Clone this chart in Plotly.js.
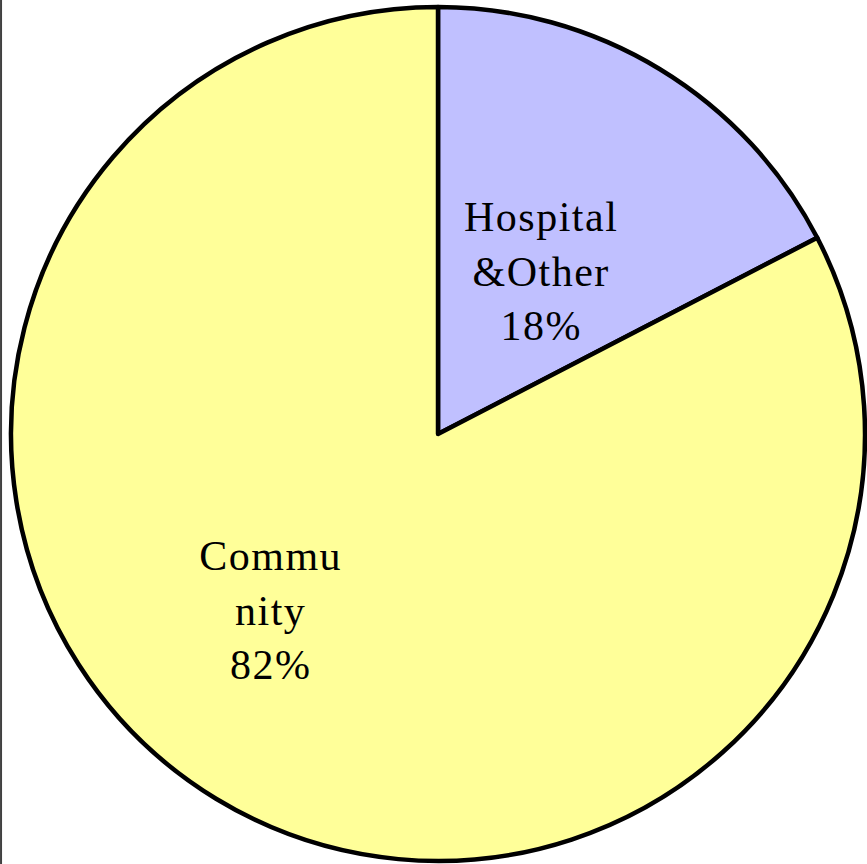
<!DOCTYPE html>
<html>
<head>
<meta charset="utf-8">
<script src="https://cdn.plot.ly/plotly-3.0.1.min.js"></script>
<style>html,body{margin:0;padding:0;background:#fff;}#chart{width:867px;height:864px;}
#chart .annotation-text{letter-spacing:1.5px;}</style>
</head>
<body>
<div id="chart"></div>
<script>
// Data
const categories = ['Hospital &Other', 'Community'];
const values = [17.4, 82.6];
const percentLabels = ['18%', '82%'];
const labelLines = [['Hospital', '&Other'], ['Commu', 'nity']];
const sliceColors = ['#C0C0FF', '#FFFF99'];

const labelPos = [{x: 0.624, y: 0.686}, {x: 0.312, y: 0.293}];

const trace = {
  type: 'pie',
  labels: categories,
  values: values,
  sort: false,
  direction: 'clockwise',
  rotation: 0,
  textinfo: 'none',
  hoverinfo: 'label+percent',
  marker: {colors: sliceColors, line: {color: '#000000', width: 4.5}},
  domain: {x: [0.0127, 0.9977], y: [0.0035, 0.9919]},
  showlegend: false
};

const annotations = categories.map((c, i) => ({
  xref: 'paper', yref: 'paper',
  x: labelPos[i].x, y: labelPos[i].y,
  xanchor: 'center', yanchor: 'middle',
  showarrow: false,
  align: 'center',
  text: labelLines[i].concat([percentLabels[i]]).join('<br>'),
  font: {family: 'Liberation Serif, Times New Roman, serif', size: 42, color: '#000000'}
}));

const layout = {
  width: 867, height: 864,
  margin: {l: 0, r: 0, t: 0, b: 0},
  paper_bgcolor: '#ffffff',
  showlegend: false,
  annotations: annotations,
  shapes: [{type: 'line', xref: 'paper', yref: 'paper', x0: 0.0012, x1: 0.0012, y0: 0, y1: 1,
            line: {color: '#404040', width: 2}}]
};

Plotly.newPlot('chart', [trace], layout, {staticPlot: true, displayModeBar: false});
</script>
</body>
</html>
